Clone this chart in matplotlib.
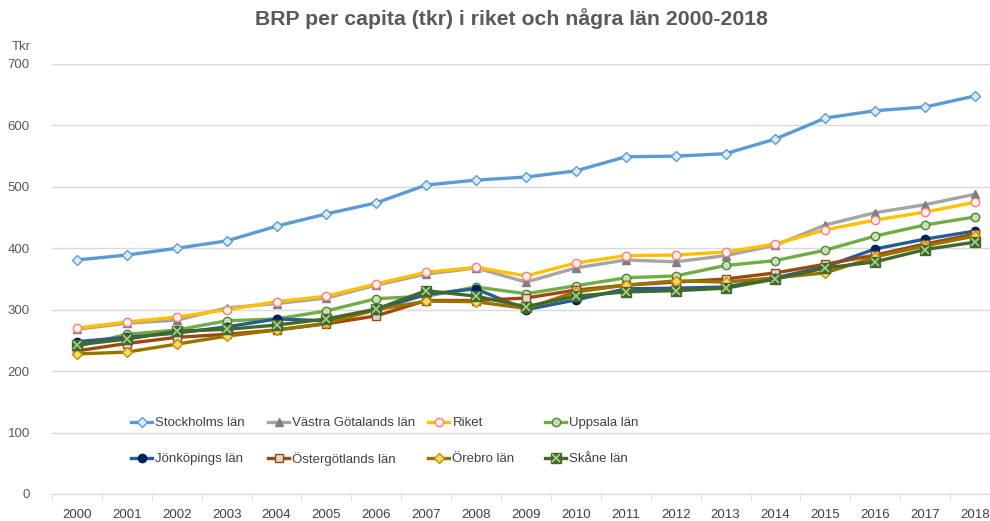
import numpy as np
import matplotlib
matplotlib.use('Agg')
import matplotlib.pyplot as plt
from matplotlib.lines import Line2D

plt.rcParams['font.family'] = ['Liberation Sans', 'DejaVu Sans']

years = list(range(2000, 2019))

stockholm = [381, 389, 400, 412, 436, 456, 474, 503, 511, 516, 526, 549, 550, 554, 578, 612, 624, 630, 648]
vastra = [268, 278, 283, 303, 310, 319, 340, 358, 368, 345, 368, 381, 378, 388, 405, 438, 458, 471, 488]
riket = [270, 280, 288, 300, 313, 322, 342, 361, 369, 355, 376, 388, 389, 394, 407, 430, 446, 459, 475]
uppsala = [240, 260, 267, 282, 285, 298, 318, 322, 337, 326, 339, 352, 355, 372, 380, 397, 420, 438, 451]
jonkoping = [248, 255, 262, 272, 285, 282, 300, 325, 334, 300, 316, 334, 335, 337, 352, 370, 399, 415, 428]
ostergotland = [233, 245, 255, 260, 267, 277, 290, 315, 315, 319, 332, 340, 345, 350, 360, 374, 389, 407, 423]
orebro = [228, 231, 244, 257, 267, 278, 300, 314, 313, 302, 329, 340, 347, 345, 352, 360, 386, 404, 420]
skane = [243, 252, 265, 268, 275, 285, 301, 331, 322, 305, 322, 329, 331, 335, 350, 368, 378, 398, 410]

# name, values, line colour, marker, marker face, marker edge
SERIES = [
    ("Stockholms län", stockholm, '#5B9BD5', 'D', '#DEEBF7', '#5B9BD5'),
    ("Västra Götalands län", vastra, '#A5A5A5', '^', '#7F7F7F', '#7F7F7F'),
    ("Riket", riket, '#FFC000', 'o', '#FFF2E6', '#FF7C80'),
    ("Uppsala län", uppsala, '#70AD47', 'o', '#C5E0B4', '#548235'),
    ("Jönköpings län", jonkoping, '#255E91', 'o', '#002060', '#002060'),
    ("Östergötlands län", ostergotland, '#9E480E', 's', '#D9D9D9', '#9E480E'),
    ("Örebro län", orebro, '#997300', 'D', '#FFD966', '#BF9000'),
    ("Skåne län", skane, '#43682B', 's', '#43682B', '#A9D18E'),
]

fig = plt.figure(figsize=(9.9, 5.21), dpi=100)
ax = fig.add_axes([52 / 990, 27 / 521, 948 / 990, 430 / 521])

x = np.arange(len(years))
handles = {}
for name, vals, col, mk, mfc, mec in SERIES:
    ms = 6 if mk != 'D' else 5
    if name == "Skåne län":
        ax.plot(x, vals, color=col, lw=2.4, marker='s', ms=6.5, mfc=mfc, mec=col, zorder=3)
        ax.plot(x, vals, ls='none', marker='x', ms=5.5, mec=mec, mew=1.2, zorder=4)
        h = (Line2D([], [], color=col, lw=2.4, marker='s', ms=6.5, mfc=mfc, mec=col),
             Line2D([], [], ls='none', marker='x', ms=5.5, mec=mec, mew=1.2))
    else:
        ax.plot(x, vals, color=col, lw=2.4, marker=mk, ms=ms, mfc=mfc, mec=mec, mew=1.0, zorder=3)
        h = Line2D([], [], color=col, lw=2.4, marker=mk, ms=ms, mfc=mfc, mec=mec, mew=1.0)
    handles[name] = h

ax.set_xlim(-0.5, len(years) - 0.5)
ax.set_ylim(0, 700)
ax.set_yticks(range(0, 701, 100))
ax.yaxis.grid(True, color='#D9D9D9', lw=1)
ax.set_axisbelow(True)
ax.set_xticks(x)
ax.set_xticklabels([str(y) for y in years])
ax.set_xticks(np.arange(-0.5, len(years)), minor=True)
ax.tick_params(axis='x', which='major', length=0, pad=11, labelsize=9.5, colors='#404040')
ax.tick_params(axis='x', which='minor', length=5, color='#D9D9D9')
ax.tick_params(axis='y', length=0, pad=16, labelsize=9.5, colors='#595959')
for s in ['top', 'right', 'left']:
    ax.spines[s].set_visible(False)
ax.spines['bottom'].set_color('#D9D9D9')

fig.text(0.517, 0.965, "BRP per capita (tkr) i riket och några län 2000-2018",
         ha='center', va='center', fontsize=15.3, fontweight='bold', color='#595959')
fig.text(12 / 990, 1 - 47 / 521, "Tkr", ha='left', va='center', fontsize=9.5, color='#595959')

# legend: one entry per slot, two rows of four
rows = [["Stockholms län", "Västra Götalands län", "Riket", "Uppsala län"],
        ["Jönköpings län", "Östergötlands län", "Örebro län", "Skåne län"]]
col_x = [131, 268, 428, 545]
row_y = [423, 459]
for ry, row in zip(row_y, rows):
    for cx, name in zip(col_x, row):
        fig.legend([handles[name]], [name], frameon=False, loc='center left',
                   bbox_to_anchor=(cx / 990, 1 - ry / 521), handlelength=1.6,
                   handletextpad=0.25, borderaxespad=0, borderpad=0,
                   labelcolor='#404040', prop={'size': 9.5})

fig.savefig('out.png', dpi=100)
